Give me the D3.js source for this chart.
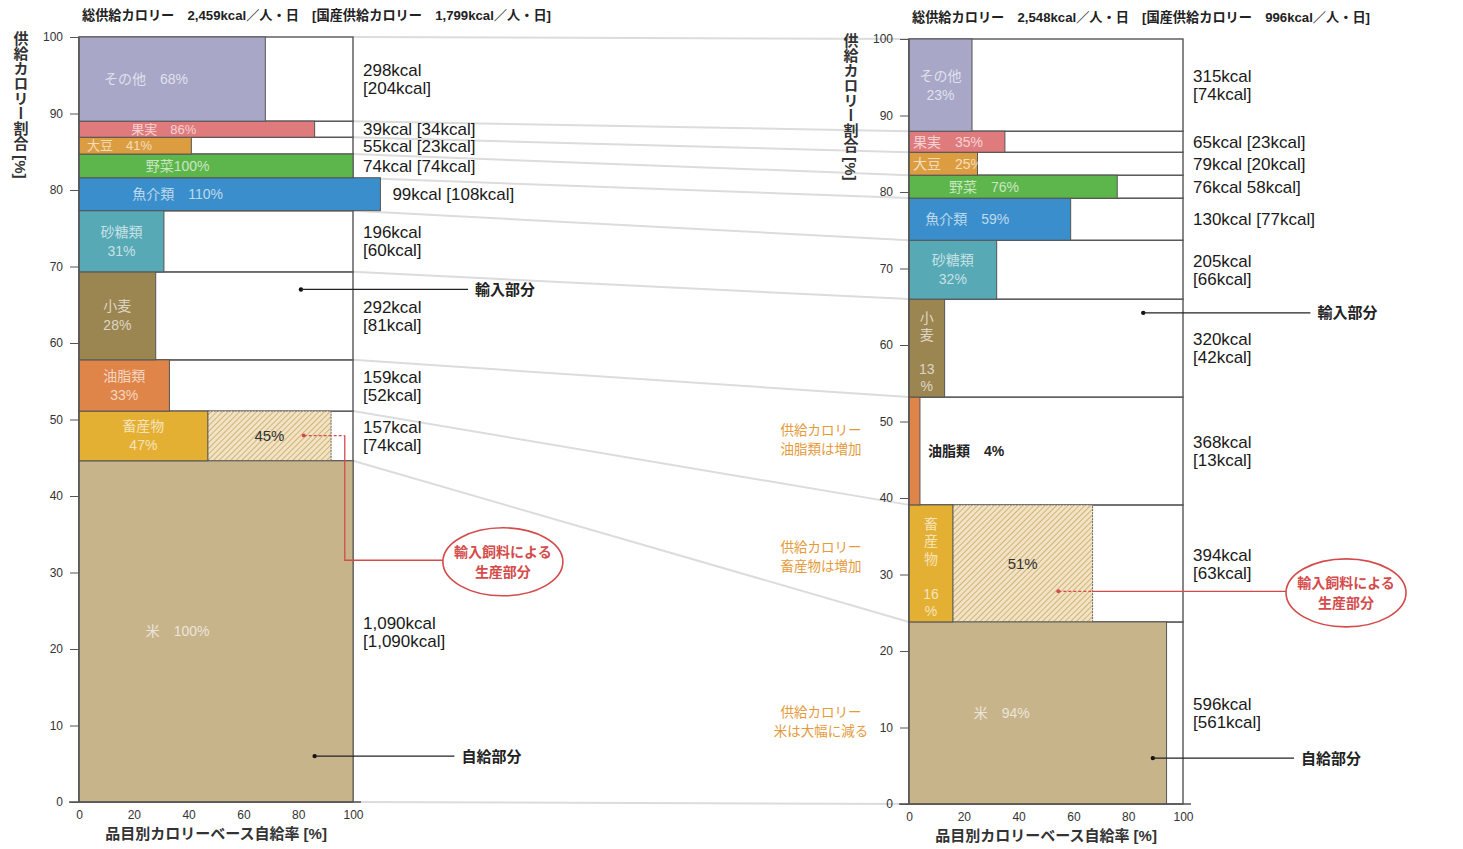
<!DOCTYPE html>
<html><head><meta charset="utf-8">
<script src="https://cdn.jsdelivr.net/npm/d3@7"></script>
<style>
body{margin:0;background:#fff;}
svg{display:block;font-family:"Liberation Sans",Arial,"Noto Sans CJK JP",sans-serif;}
</style></head><body>
<svg id="chart" width="1463" height="849"></svg>
<script>
// ---------- data (bottom to top) ----------
const categories = ["米","畜産物","油脂類","小麦","砂糖類","魚介類","野菜","大豆","果実","その他"];

// share of supplied calories [%] as drawn (segment heights)
const leftShare = [44.6,6.5,6.7,11.5,8.0,4.3,3.1,2.2,2.1,11.0];
const leftRate = [100,47,33,28,31,110,100,41,86,68];
const leftFeedRate = [0,45,0,0,0,0,0,0,0,0];
const leftKcalText = [
  ["1,090kcal","[1,090kcal]"],["157kcal","[74kcal]"],["159kcal","[52kcal]"],
  ["292kcal","[81kcal]"],["196kcal","[60kcal]"],["99kcal [108kcal]"],
  ["74kcal [74kcal]"],["55kcal [23kcal]"],["39kcal [34kcal]"],["298kcal","[204kcal]"]
];

const rightShare = [23.8,15.3,14.1,12.8,7.7,5.5,3.0,3.0,2.75,12.05];
const rightRate = [94,16,4,13,32,59,76,25,35,23];
const rightFeedRate = [0,51,0,0,0,0,0,0,0,0];
const rightKcalText = [
  ["596kcal","[561kcal]"],["394kcal","[63kcal]"],["368kcal","[13kcal]"],
  ["320kcal","[42kcal]"],["205kcal","[66kcal]"],["130kcal [77kcal]"],
  ["76kcal 58kcal]"],["79kcal [20kcal]"],["65kcal [23kcal]"],["315kcal","[74kcal]"]
];

const yTickValues = [0,10,20,30,40,50,60,70,80,90,100];
const xTickValues = [0,20,40,60,80,100];
const leftHeader = "総供給カロリー　2,459kcal／人・日　[国産供給カロリー　1,799kcal／人・日]";
const rightHeader = "総供給カロリー　2,548kcal／人・日　[国産供給カロリー　996kcal／人・日]";
const yTitle = "供給カロリー割合 [%]";
const xTitle = "品目別カロリーベース自給率 [%]";
const importLabel = "輸入部分";
const selfLabel = "自給部分";
const feedLabel = ["輸入飼料による","生産部分"];
const notes = [["供給カロリー","油脂類は増加"],["供給カロリー","畜産物は増加"],["供給カロリー","米は大幅に減る"]];

// ---------- styles ----------
const palette = {
  "米":"#c8b48b","畜産物":"#e4b033","油脂類":"#df8549","小麦":"#9b8550","砂糖類":"#56a9b5",
  "魚介類":"#3a8ecb","野菜":"#5db64b","大豆":"#dc9d40","果実":"#df7b7d","その他":"#a8a7c8"
};
const leftModes  = ["single","two","two","two","two","single","tight","single","single","single"];
const rightModes = ["single","vertical","outside","vertical","two","single","single","single","single","two"];

const svg = d3.select("#chart");
const defs = svg.append("defs");
const pat = defs.append("pattern").attr("id","hatch").attr("patternUnits","userSpaceOnUse")
  .attr("width",4).attr("height",4).attr("patternTransform","rotate(45)");
pat.append("rect").attr("width",4).attr("height",4).attr("fill","#f1e3c3");
pat.append("line").attr("x1",0).attr("y1",0).attr("x2",0).attr("y2",4)
  .attr("stroke","#c9a769").attr("stroke-width",1.6);

function cum(share){
  let acc = 0;
  return share.map(s => { const lo = acc; acc += s; return [lo, Math.min(acc,100)]; });
}

const xL = d3.scaleLinear().domain([0,100]).range([79,353]);
const yL = d3.scaleLinear().domain([0,100]).range([802,37]);
const xR = d3.scaleLinear().domain([0,100]).range([909,1183]);
const yR = d3.scaleLinear().domain([0,100]).range([804,39]);

const segL = cum(leftShare), segR = cum(rightShare);

// ---------- connector lines ----------
const gConn = svg.append("g");
const boundsL = [0, ...segL.map(s=>s[1])], boundsR = [0, ...segR.map(s=>s[1])];
gConn.selectAll("line").data(boundsL).join("line")
  .attr("x1", xL(100)).attr("y1", d=>yL(d))
  .attr("x2", xR(0)).attr("y2",(d,i)=>yR(boundsR[i]))
  .attr("stroke","#dcdcdc").attr("stroke-width",2);

function drawChart(cfg){
  const {x,y,seg,rate,feed,kcalText,modes,header} = cfg;
  const g = svg.append("g");
  g.selectAll("rect.box").data(seg).join("rect").attr("class","box")
    .attr("x",x(0)).attr("width",x(100)-x(0))
    .attr("y",d=>y(d[1])).attr("height",d=>y(d[0])-y(d[1]))
    .attr("fill","#fff").attr("stroke","#555").attr("stroke-width",1.4);
  g.selectAll("rect.feed").data(seg.map((d,i)=>({d,i})).filter(o=>feed[o.i]>0)).join("rect")
    .attr("x",o=>x(rate[o.i])).attr("width",o=>x(rate[o.i]+feed[o.i])-x(rate[o.i]))
    .attr("y",o=>y(o.d[1])).attr("height",o=>y(o.d[0])-y(o.d[1]))
    .attr("fill","url(#hatch)").attr("stroke","#666").attr("stroke-width",1).attr("stroke-dasharray","2,1");
  g.selectAll("rect.bar").data(seg).join("rect").attr("class","bar")
    .attr("x",x(0)).attr("width",(d,i)=>x(rate[i])-x(0))
    .attr("y",d=>y(d[1])).attr("height",d=>y(d[0])-y(d[1]))
    .attr("fill",(d,i)=>palette[categories[i]]).attr("stroke","#555").attr("stroke-width",1);

  seg.forEach((d,i)=>{
    const cat = categories[i], r = rate[i], mode = modes[i];
    const yc = (y(d[0])+y(d[1]))/2, h = y(d[0])-y(d[1]);
    const fill = "rgba(255,255,255,0.68)";
    if(mode==="single"||mode==="tight"){
      const t = g.append("text").text(mode==="tight"? `${cat}${r}%` : `${cat}　${r}%`)
        .attr("y",yc).attr("dy","0.36em").attr("text-anchor","middle")
        .attr("font-size", h<20?13:14).attr("fill",fill);
      const w = t.node().getComputedTextLength();
      t.attr("x", Math.max(x(Math.min(r,100)*0.36), x(0)+w/2+4));
    } else if(mode==="two"){
      [cat, r+"%"].forEach((s,k)=>g.append("text").text(s).attr("x",x(r/2))
        .attr("y",yc+(k-0.5)*19).attr("dy","0.36em").attr("text-anchor","middle")
        .attr("font-size",14).attr("fill",fill));
    } else if(mode==="vertical"){
      const parts = [...cat.split(""), "", String(r), "%"];
      const step = (h-12)/(parts.length);
      parts.forEach((s,k)=>{ if(!s) return;
        g.append("text").text(s).attr("x",x(r/2)).attr("y",y(d[1])+10+step*(k+0.5))
          .attr("dy","0.36em").attr("text-anchor","middle").attr("font-size",14).attr("fill",fill);});
    } else if(mode==="outside"){
      g.append("text").text(`${cat}　${r}%`).attr("x",x(r)+8).attr("y",yc).attr("dy","0.36em")
        .attr("font-size",14).attr("fill","#222").attr("font-weight","bold");
    }
    if(feed[i]>0){
      g.append("text").text(feed[i]+"%").attr("x",x(r+feed[i]/2)).attr("y",yc).attr("dy","0.36em")
        .attr("text-anchor","middle").attr("font-size",15).attr("fill","#333");
    }
    const lines = kcalText[i];
    lines.forEach((s,k)=>g.append("text").text(s)
      .attr("x", x(Math.max(100,r))+(r>100?12:10))
      .attr("y", yc + (k-(lines.length-1)/2)*18).attr("dy","0.36em")
      .attr("font-size",17).attr("fill","#1a1a1a"));
  });

  const ya = g.append("g").attr("transform",`translate(${x(0)},0)`)
    .call(d3.axisLeft(y).tickValues(yTickValues).tickSize(9).tickPadding(7));
  ya.select(".domain").remove();
  ya.selectAll("line").attr("stroke","#555");
  ya.selectAll("text").attr("font-size",12).attr("fill","#333").style("font-family","inherit");
  g.append("line").attr("x1",x(0)).attr("x2",x(0)).attr("y1",y(0)).attr("y2",y(100)).attr("stroke","#555").attr("stroke-width",1.4);
  const xa = g.append("g").attr("transform",`translate(0,${y(0)})`)
    .call(d3.axisBottom(x).tickValues(xTickValues).tickSize(0).tickPadding(8));
  xa.select(".domain").remove();
  xa.selectAll("text").attr("font-size",12).attr("fill","#333").style("font-family","inherit");
  g.append("line").attr("x1",x(0)-10).attr("x2",x(100)+8).attr("y1",y(0)).attr("y2",y(0))
    .attr("stroke","#555").attr("stroke-width",1.6);

  g.append("text").text(header).attr("x",x(0)+3).attr("y",y(100)-17)
    .attr("font-size",13.2).attr("font-weight","bold").attr("fill","#222");
  g.append("text").text(xTitle).attr("x",(x(0)+x(100))/2).attr("y",y(0)+37)
    .attr("text-anchor","middle").attr("font-size",15).attr("font-weight","bold").attr("fill","#333");
  g.append("text").text(yTitle).attr("x",x(0)-59).attr("y",y(100)-6)
    .style("writing-mode","vertical-rl").attr("font-size",15).attr("font-weight","bold").attr("fill","#333");
  return g;
}

drawChart({x:xL,y:yL,seg:segL,rate:leftRate,feed:leftFeedRate,kcalText:leftKcalText,modes:leftModes,header:leftHeader});
drawChart({x:xR,y:yR,seg:segR,rate:rightRate,feed:rightFeedRate,kcalText:rightKcalText,modes:rightModes,header:rightHeader});

// ---------- annotations ----------
const ga = svg.append("g");
function pointer(x1,y1,x2,label){
  ga.append("circle").attr("cx",x1).attr("cy",y1).attr("r",2.2).attr("fill","#111");
  ga.append("line").attr("x1",x1).attr("x2",x2).attr("y1",y1).attr("y2",y1).attr("stroke","#222").attr("stroke-width",1.3);
  ga.append("text").text(label).attr("x",x2+7).attr("y",y1).attr("dy","0.36em")
    .attr("font-size",15).attr("font-weight","bold").attr("fill","#222");
}
pointer(xL(81), yL(67), xL(142), importLabel);
pointer(xL(86), yL(6), xL(137), selfLabel);
pointer(xR(85.5), yR(64.2), xR(146.5), importLabel);
pointer(xR(89), yR(6), xR(140.5), selfLabel);

const red = "#d44b4b";
function bubble(cx,cy){
  ga.append("ellipse").attr("cx",cx).attr("cy",cy).attr("rx",60).attr("ry",34)
    .attr("fill","#fff").attr("stroke",red).attr("stroke-width",1.6);
  feedLabel.forEach((s,k)=>ga.append("text").text(s).attr("x",cx).attr("y",cy+(k-0.5)*20).attr("dy","0.36em")
    .attr("text-anchor","middle").attr("font-size",14).attr("font-weight","bold").attr("fill",red));
}
{
  const x1=xL(82), y1=yL(47.9), xv=xL(97), y2=yL(31.6), cx=xL(154.7), cy=yL(31.4);
  ga.append("circle").attr("cx",x1).attr("cy",y1).attr("r",2).attr("fill",red);
  ga.append("line").attr("x1",x1).attr("x2",xv).attr("y1",y1).attr("y2",y1).attr("stroke",red).attr("stroke-width",1.2).attr("stroke-dasharray","3,2");
  ga.append("path").attr("d",`M${xv},${y1}V${y2}H${cx-60}`).attr("fill","none").attr("stroke",red).attr("stroke-width",1.3);
  bubble(cx,cy);
}
{
  const x1=xR(54.5), y1=yR(27.8), cx=xR(159.5);
  ga.append("circle").attr("cx",x1).attr("cy",y1).attr("r",2).attr("fill",red);
  ga.append("line").attr("x1",x1).attr("x2",xR(67)).attr("y1",y1).attr("y2",y1).attr("stroke",red).attr("stroke-width",1.2).attr("stroke-dasharray","3,2");
  ga.append("line").attr("x1",xR(67)).attr("x2",cx-60).attr("y1",y1).attr("y2",y1).attr("stroke",red).attr("stroke-width",1.3);
  bubble(cx,yR(27.6));
}
const noteY = [47.6, 32.3, 10.8];
notes.forEach((lines,i)=>lines.forEach((s,k)=>ga.append("text").text(s)
  .attr("x",xR(0)-88).attr("y",yR(noteY[i])+(k-0.5)*19).attr("dy","0.36em")
  .attr("text-anchor","middle").attr("font-size",13.5).attr("fill","#e59a3a")));
</script>
</body></html>
